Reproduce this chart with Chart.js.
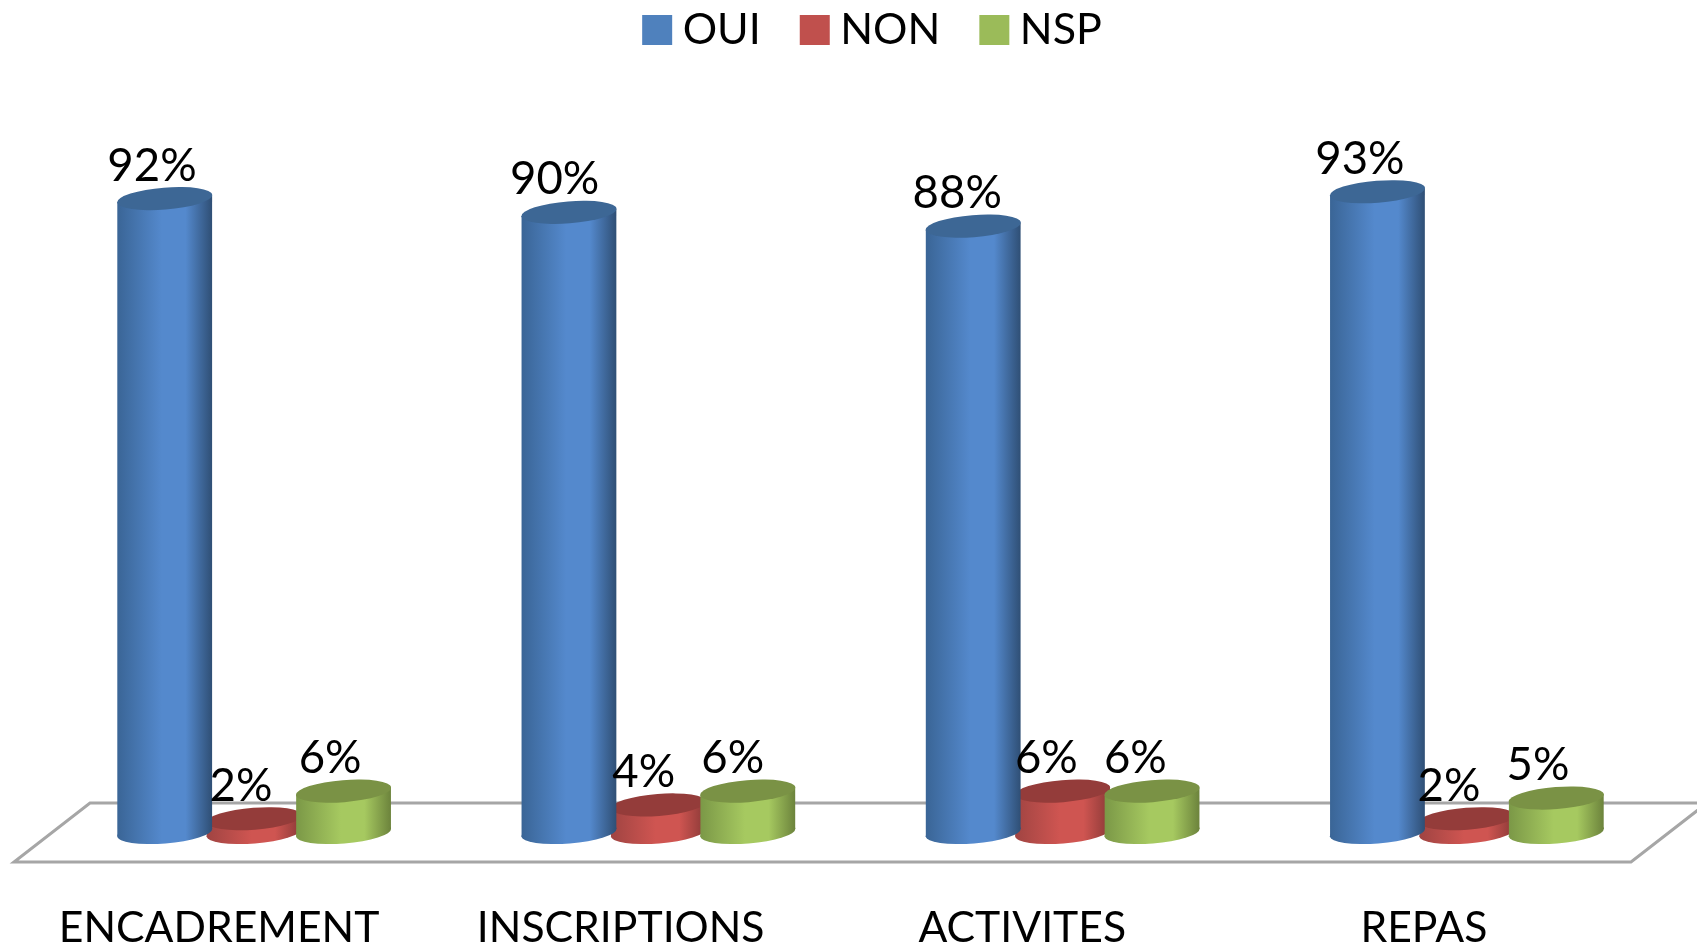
<!DOCTYPE html>
<html><head><meta charset="utf-8">
<style>html,body{margin:0;padding:0;background:#fff;overflow:hidden}canvas{display:block}</style>
<script src="https://cdn.jsdelivr.net/npm/chart.js@4"></script>
</head><body>
<canvas id="c" width="1697" height="947"></canvas>
<script>
const categories = ['ENCADREMENT','INSCRIPTIONS','ACTIVITES','REPAS'];
const oui = [92,90,88,93];
const non = [2,4,6,2];
const nsp = [6,6,6,5];
const FONT = 'Lato, Carlito, sans-serif';
const palettes = [
  {legend:'#4f81bd', cap:'#3d6795', edgeL:'#3a6596', mid:'#5489cd', edgeR:'#2f4f75'},
  {legend:'#c0504d', cap:'#943c3a', edgeL:'#a04442', mid:'#cf5551', edgeR:'#8a3937'},
  {legend:'#9bbb59', cap:'#7a9245', edgeL:'#7b9847', mid:'#a6c960', edgeR:'#6c833c'}
];
const PAINT_ORDER = [1,0,2];
const TILT = -4.5*Math.PI/180, ELLIPSE_B = 11, EDGE_DY = 3.5;
const SPREAD_LABELS = 0.9935, SPREAD_VALUES = 0.996;

function cylinder(ctx, el, p){
  const {x, y, base, width} = el.getProps(['x','y','base','width'], true);
  const a = width/2 + 0.3, l = x - width/2, r = x + width/2;
  const g = ctx.createLinearGradient(l,0,r,0);
  g.addColorStop(0, p.edgeL); g.addColorStop(0.47, p.mid); g.addColorStop(0.72, p.mid); g.addColorStop(1, p.edgeR);
  ctx.fillStyle = g;
  ctx.beginPath();
  ctx.moveTo(l, y+EDGE_DY); ctx.lineTo(r, y-EDGE_DY); ctx.lineTo(r, base-EDGE_DY); ctx.lineTo(l, base+EDGE_DY);
  ctx.closePath(); ctx.fill();
  ctx.beginPath(); ctx.ellipse(x, base, a, ELLIPSE_B, TILT, 0, Math.PI*2); ctx.fill();
  ctx.fillStyle = p.cap;
  ctx.beginPath(); ctx.ellipse(x, y, a, ELLIPSE_B, TILT, 0, Math.PI*2); ctx.fill();
}

const cylinders = {
  id:'cylinders',
  afterLayout(chart){
    const lg = chart.legend;
    lg.left += 17; lg.right += 17; lg.top -= 82; lg.bottom -= 82;
  },
  beforeDatasetsDraw(chart){
    const ctx = chart.ctx, xs = chart.scales.x, ys = chart.scales.y;
    const y0 = ys.getPixelForValue(0), d = 29.5, sk = 38;
    const cx = (xs.left+xs.right)/2;
    ctx.save();
    ctx.strokeStyle = '#a6a6a6'; ctx.lineWidth = 3; ctx.lineJoin = 'miter';
    ctx.beginPath();
    ctx.moveTo(xs.right+sk, y0-d); ctx.lineTo(xs.left+sk, y0-d); ctx.lineTo(xs.left-sk, y0+d);
    ctx.lineTo(xs.right-sk, y0+d); ctx.lineTo(xs.right+sk, y0-d);
    ctx.stroke();
    for (const i of PAINT_ORDER){
      chart.getDatasetMeta(i).data.forEach(el => cylinder(ctx, el, palettes[i]));
    }
    ctx.fillStyle = '#000'; ctx.font = '45.5px '+FONT; ctx.textAlign = 'center'; ctx.textBaseline = 'alphabetic';
    chart.data.datasets.forEach((ds,i)=>{
      chart.getDatasetMeta(i).data.forEach((el,j)=>{
        ctx.fillText(ds.data[j]+'%', cx+(el.x-cx)*SPREAD_VALUES-15.5, el.y-18);
      });
    });
    ctx.restore();
    return false;
  }
};

new Chart(document.getElementById('c'), {
  type:'bar',
  data:{labels:categories, datasets:[
    {label:'OUI', data:oui, backgroundColor:palettes[0].legend},
    {label:'NON', data:non, backgroundColor:palettes[1].legend},
    {label:'NSP', data:nsp, backgroundColor:palettes[2].legend}
  ]},
  plugins:[cylinders],
  options:{
    responsive:false, animation:false,
    layout:{padding:{left:52,right:28,top:40.5,bottom:0}},
    datasets:{bar:{categoryPercentage:0.668, barPercentage:1.06}},
    plugins:{
      tooltip:{enabled:false},
      legend:{position:'top', labels:{
        boxWidth:8, boxHeight:8, padding:50, color:'#000', font:{family:FONT,size:43},
        generateLabels(chart){
          return chart.data.datasets.map((ds,i)=>({text:ds.label, fillStyle:ds.backgroundColor, strokeStyle:ds.backgroundColor, lineWidth:22, lineJoin:'miter', datasetIndex:i, fontColor:'#000'}));
        }
      }}
    },
    scales:{
      y:{display:false, min:0, max:100},
      x:{grid:{display:false}, border:{display:false},
        afterFit(s){
          s.height = 947-832.5;
          const base = Object.getPrototypeOf(s).getPixelForTick;
          s.getPixelForTick = function(i){ const c=(this.left+this.right)/2; return c+(base.call(this,i)-c)*SPREAD_LABELS; };
        },
        ticks:{color:'#000', font:{family:FONT,size:42.7}, padding:62, labelOffset:-39, maxRotation:0, autoSkip:false}}
    }
  }
});
</script>
</body></html>
